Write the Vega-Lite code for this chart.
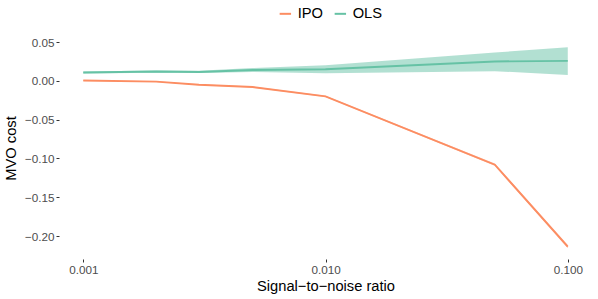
{
  "$schema": "https://vega.github.io/schema/vega-lite/v6.json",
  "width": 533,
  "height": 222,
  "autosize": "none",
  "padding": {"left": 59, "top": 37, "right": 6, "bottom": 40},
  "background": "white",
  "config": {
    "view": {"stroke": null},
    "font": "Liberation Sans",
    "axis": {
      "domain": false,
      "grid": false,
      "tickColor": "#333333",
      "tickSize": 3,
      "tickWidth": 1,
      "labelColor": "#4D4D4D",
      "labelFontSize": 11.7,
      "labelFont": "Liberation Sans",
      "titleFont": "Liberation Sans",
      "titleFontSize": 14.7,
      "titleFontWeight": "normal",
      "titleColor": "#000000",
      "labelPadding": 2
    },
    "legend": {
      "title": null,
      "orient": "none",
      "direction": "horizontal",
      "legendX": 219,
      "legendY": -31,
      "symbolType": "stroke",
      "symbolStrokeWidth": 2,
      "symbolSize": 130,
      "symbolOpacity": 1,
      "labelFontSize": 14.7,
      "labelFont": "Liberation Sans",
      "labelColor": "#000000",
      "labelOffset": 5,
      "columnPadding": 6
    }
  },
  "data": {
    "values": [
      {"snr": 0.001, "method": "IPO", "mean": 0.0004, "lo": -0.0002, "hi": 0.001},
      {"snr": 0.002, "method": "IPO", "mean": -0.001, "lo": -0.0016, "hi": -0.0004},
      {"snr": 0.003, "method": "IPO", "mean": -0.005, "lo": -0.0056, "hi": -0.0044},
      {"snr": 0.005, "method": "IPO", "mean": -0.008, "lo": -0.0087, "hi": -0.0073},
      {"snr": 0.01, "method": "IPO", "mean": -0.020, "lo": -0.0208, "hi": -0.0192},
      {"snr": 0.05, "method": "IPO", "mean": -0.108, "lo": -0.1095, "hi": -0.1065},
      {"snr": 0.1, "method": "IPO", "mean": -0.2136, "lo": -0.2158, "hi": -0.2114},
      {"snr": 0.001, "method": "OLS", "mean": 0.0107, "lo": 0.0095, "hi": 0.012},
      {"snr": 0.002, "method": "OLS", "mean": 0.012, "lo": 0.0105, "hi": 0.0135},
      {"snr": 0.003, "method": "OLS", "mean": 0.0115, "lo": 0.010, "hi": 0.013},
      {"snr": 0.005, "method": "OLS", "mean": 0.014, "lo": 0.0115, "hi": 0.0165},
      {"snr": 0.01, "method": "OLS", "mean": 0.015, "lo": 0.0099, "hi": 0.0202},
      {"snr": 0.05, "method": "OLS", "mean": 0.025, "lo": 0.0125, "hi": 0.0365},
      {"snr": 0.1, "method": "OLS", "mean": 0.0258, "lo": 0.0077, "hi": 0.0434}
    ]
  },
  "encoding": {
    "x": {
      "field": "snr", "type": "quantitative",
      "scale": {"type": "log", "domain": [0.000794, 0.1259], "nice": false, "zero": false},
      "axis": {"values": [0.001, 0.01, 0.1], "format": ".3f", "title": "Signal−to−noise ratio", "titlePadding": 3}
    },
    "color": {
      "field": "method", "type": "nominal",
      "scale": {"domain": ["IPO", "OLS"], "range": ["#FC8D62", "#66C2A5"]}
    }
  },
  "layer": [
    {
      "mark": {"type": "area", "opacity": 0.5},
      "encoding": {
        "y": {"field": "lo", "type": "quantitative"},
        "y2": {"field": "hi"}
      }
    },
    {
      "mark": {"type": "line", "strokeWidth": 1.9},
      "encoding": {
        "y": {
          "field": "mean", "type": "quantitative",
          "scale": {"domain": [-0.2295, 0.0565], "nice": false, "zero": false},
          "axis": {"values": [-0.2, -0.15, -0.1, -0.05, 0, 0.05], "format": ".2f", "title": "MVO cost", "titlePadding": 6}
        }
      }
    }
  ]
}
